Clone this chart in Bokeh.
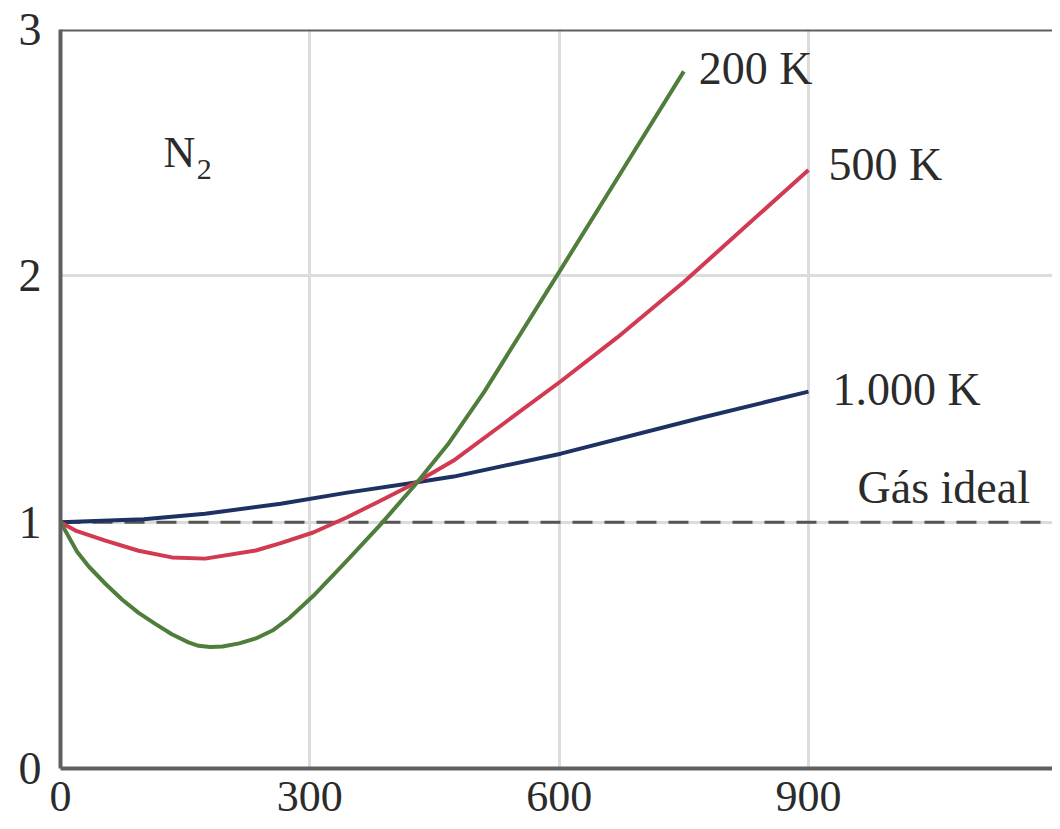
from bokeh.plotting import figure
from bokeh.models import Range1d, FixedTicker, Span
from bokeh.core.properties import value
from bokeh.embed import file_html
from bokeh.resources import INLINE

# Pressure (atm) vs compressibility factor PV/RT for N2
x_200 = [0, 20, 34, 54, 74, 94, 114, 134, 154, 166, 180, 195, 215, 235, 255, 275, 304, 345, 385, 425, 466, 510, 599, 680, 750]
y_200 = [1.0, 0.88, 0.82, 0.75, 0.686, 0.632, 0.587, 0.545, 0.512, 0.498, 0.493, 0.495, 0.508, 0.528, 0.56, 0.61,
         0.70, 0.845, 0.99, 1.145, 1.315, 1.53, 2.01, 2.45, 2.83]

x_500 = [0, 18, 54, 94, 134, 174, 235, 265, 304, 345, 385, 425, 473, 602, 670, 750, 900]
y_500 = [1.0, 0.966, 0.925, 0.884, 0.857, 0.852, 0.885, 0.915, 0.958, 1.02, 1.087, 1.156, 1.25, 1.572, 1.75, 1.975, 2.43]

x_1000 = [0, 100, 174, 265, 345, 425, 473, 602, 771, 900]
y_1000 = [1.0, 1.012, 1.034, 1.075, 1.12, 1.16, 1.185, 1.278, 1.424, 1.53]

ideal_x = [0, 1200]
ideal_y = [1.0, 1.0]

x_ticks = [0, 300, 600, 900]
y_ticks = [0, 1, 2, 3]

labels = ["200 K", "500 K", "1.000 K", "Gás ideal"]
label_x = [768, 924, 929, 959]
label_y = [2.84, 2.45, 1.54, 1.14]

FONT = "Liberation Serif"
TXT = "#2b2b2b"

p = figure(width=1052, height=821, output_backend="svg", toolbar_location=None,
           x_range=Range1d(0, 1193.6), y_range=Range1d(0, 3),
           min_border_left=60, min_border_right=0, min_border_top=29, min_border_bottom=53)
p.outline_line_color = None
p.background_fill_color = "white"

p.xaxis.ticker = FixedTicker(ticks=x_ticks)
p.yaxis.ticker = FixedTicker(ticks=y_ticks)
for ax in (p.xaxis[0], p.yaxis[0]):
    ax.axis_line_color = "#5f5f5f"
    ax.axis_line_width = 4
    ax.major_tick_line_color = None
    ax.minor_tick_line_color = None
    ax.major_label_text_font = FONT
    ax.major_label_text_color = TXT
p.xaxis.major_label_text_font_size = "44px"
p.yaxis.major_label_text_font_size = "46px"
p.xaxis.major_label_standoff = 7
p.yaxis.major_label_standoff = 13

p.xgrid.grid_line_color = "#dcdcdc"
p.xgrid.grid_line_width = 3
p.ygrid.grid_line_color = "#dcdcdc"
p.ygrid.grid_line_width = 3

p.add_layout(Span(location=3, dimension="width", line_color="#5f5f5f", line_width=4))

p.line(ideal_x, ideal_y, line_color="#555555", line_width=3, line_dash="20 12")
p.line(x_1000, y_1000, line_color="#1d3263", line_width=4, line_join="round")
p.line(x_500, y_500, line_color="#d23a52", line_width=4, line_join="round")
p.line(x_200, y_200, line_color="#4e7d3c", line_width=4, line_join="round")

p.text(x=label_x, y=label_y, text=labels, text_font=value(FONT), text_font_size="46px",
       text_color=TXT, text_align="left", text_baseline="middle")

p.text(x=[124], y=[2.50], text=["N"], text_font=value(FONT), text_font_size="44px",
       text_color=TXT, text_align="left", text_baseline="middle")
p.text(x=[164], y=[2.43], text=["2"], text_font=value(FONT), text_font_size="30px",
       text_color=TXT, text_align="left", text_baseline="middle")

open("out.html", "w").write(file_html(p, INLINE))
